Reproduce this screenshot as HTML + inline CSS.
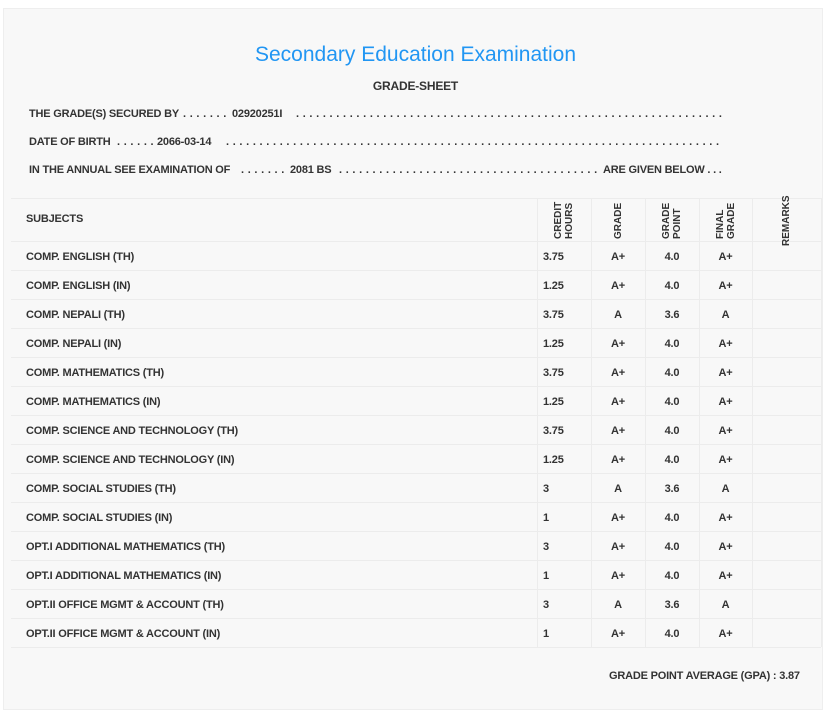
<!DOCTYPE html>
<html><head><meta charset="utf-8"><style>
body{margin:0;width:831px;height:697px;background:#fff;font-family:"Liberation Sans",sans-serif;color:#333;overflow:hidden;position:relative}
#panel{position:absolute;left:3px;top:8px;width:818px;height:700px;background:#f8f8f8;border:1px solid #eee}
.t{position:absolute;white-space:nowrap;font-size:11px;font-weight:bold;letter-spacing:-0.2px;transform-origin:0 50%}
.d{position:absolute;white-space:nowrap;overflow:hidden;font-size:11px;font-weight:bold;letter-spacing:0.3px}
.hl{position:absolute;height:1px;background:#ececec}
.vl{position:absolute;width:1px;background:#ececec}
.rot{position:absolute;font-size:10px;font-weight:bold;line-height:11px;transform:rotate(-90deg);transform-origin:left top;white-space:nowrap}
</style></head><body>
<div id="panel"></div>
<div class="t" style="left:0;width:831px;text-align:center;top:43px;font-size:21px;font-weight:normal;color:#2196f3;letter-spacing:0">Secondary Education Examination</div>
<div class="t" style="left:0;width:831px;text-align:center;top:79px;font-size:12px">GRADE-SHEET</div>

<div class="t" style="left:29px;top:108px">THE GRADE(S) SECURED BY</div>
<div class="d dots" style="left:183px;top:108px;width:46px"></div>
<div class="t" style="left:232px;top:108px">02920251I</div>
<div class="d dots" style="left:296px;top:108px;width:430px"></div>

<div class="t" style="left:29px;top:136px">DATE OF BIRTH</div>
<div class="d dots" style="left:117px;top:136px;width:38px"></div>
<div class="t" style="left:157px;top:136px">2066-03-14</div>
<div class="d dots" style="left:226px;top:136px;width:496px"></div>

<div class="t" style="left:29px;top:164px">IN THE ANNUAL SEE EXAMINATION OF</div>
<div class="d dots" style="left:241px;top:164px;width:46px"></div>
<div class="t" style="left:290px;top:164px">2081 BS</div>
<div class="d dots" style="left:339px;top:164px;width:262px"></div>
<div class="t" style="left:603px;top:164px">ARE GIVEN BELOW . . .</div>

<div id="tbl"></div>
<div class="t" style="left:609px;top:670px">GRADE POINT AVERAGE (GPA) : 3.87</div>
<script>
document.querySelectorAll('.dots').forEach(e=>{e.textContent='. '.repeat(120);});
const subjects=["COMP. ENGLISH (TH)","COMP. ENGLISH (IN)","COMP. NEPALI (TH)","COMP. NEPALI (IN)","COMP. MATHEMATICS (TH)","COMP. MATHEMATICS (IN)","COMP. SCIENCE AND TECHNOLOGY (TH)","COMP. SCIENCE AND TECHNOLOGY (IN)","COMP. SOCIAL STUDIES (TH)","COMP. SOCIAL STUDIES (IN)","OPT.I ADDITIONAL MATHEMATICS (TH)","OPT.I ADDITIONAL MATHEMATICS (IN)","OPT.II OFFICE MGMT & ACCOUNT (TH)","OPT.II OFFICE MGMT & ACCOUNT (IN)"];
const creditHours=["3.75","1.25","3.75","1.25","3.75","1.25","3.75","1.25","3","1","3","1","3","1"];
const grades=["A+","A+","A","A+","A+","A+","A+","A+","A","A+","A+","A+","A","A+"];
const gradePoints=["4.0","4.0","3.6","4.0","4.0","4.0","4.0","4.0","3.6","4.0","4.0","4.0","3.6","4.0"];
const finalGrades=["A+","A+","A","A+","A+","A+","A+","A+","A","A+","A+","A+","A","A+"];
const headers=[["CREDIT","HOURS"],["GRADE"],["GRADE","POINT"],["FINAL","GRADE"],["REMARKS"]];
const tbl=document.getElementById('tbl');
const cols=[537,591,645,699,752,821];
const top0=198,hdrH=43,rowH=29;
function add(cls,style,txt){const d=document.createElement('div');d.className=cls;d.style.cssText=style;if(txt!==undefined)d.textContent=txt;tbl.appendChild(d);return d;}
for(let i=0;i<=subjects.length;i++){
  const y=i===0?top0:top0+hdrH+(i-1)*rowH;
  const l=add('hl',`left:11px;width:810px;top:${y}px`);
  
  
}
const bottom=top0+hdrH+subjects.length*rowH;
const lb=add('hl',`left:11px;width:810px;top:${bottom}px`);


cols.forEach(x=>{
  const v=add('vl',`left:${x}px;top:${top0}px;height:${bottom-top0}px`);
  
  
});
const sh=add('t',`left:26px;top:${top0+15}px`,'SUBJECTS');


headers.forEach((h,j)=>{
  const w=h.length*11;
  const cx=(cols[j]+cols[j+1])/2;
  const bottomY=j===4?246:239;
  const d=add('rot',`left:${cx-w/2}px;top:${bottomY}px`);
  d.innerHTML=h.join('<br>');
  
  
});
subjects.forEach((s,i)=>{
  const y=top0+hdrH+i*rowH+10;
  const a=add('t',`left:26px;top:${y}px`,s);
  
  
  const b=add('t',`left:543px;top:${y}px`,creditHours[i]);
  
  
  [grades,gradePoints,finalGrades].forEach((arr,k)=>{
    const c=add('t',`left:${cols[k+1]}px;width:${cols[k+2]-cols[k+1]}px;text-align:center;top:${y}px`,arr[i]);
    
    
  });
});
</script>
</body></html>
